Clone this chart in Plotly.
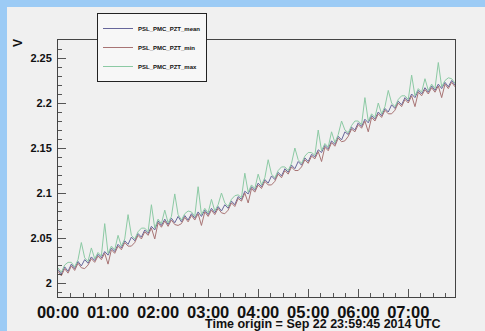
import plotly.graph_objects as go

# sample times in minutes after time origin (4-minute trend samples)
t_min = [4 * k for k in range(120)]

pzt_mean = [
    2.015, 2.010, 2.018, 2.013, 2.021, 2.016, 2.024, 2.019, 2.026, 2.022,
    2.029, 2.025, 2.032, 2.028, 2.035, 2.031, 2.039, 2.035, 2.043, 2.039,
    2.047, 2.043, 2.051, 2.047, 2.055, 2.051, 2.059, 2.055, 2.063, 2.059,
    2.069, 2.064, 2.071, 2.065, 2.072, 2.067, 2.074, 2.068, 2.075, 2.070,
    2.077, 2.072, 2.079, 2.074, 2.081, 2.076, 2.083, 2.078, 2.085, 2.080,
    2.087, 2.083, 2.091, 2.087, 2.096, 2.093, 2.102, 2.099, 2.107, 2.103,
    2.111, 2.107, 2.115, 2.111, 2.119, 2.115, 2.123, 2.119, 2.127, 2.123,
    2.131, 2.127, 2.135, 2.131, 2.139, 2.135, 2.143, 2.140, 2.148, 2.145,
    2.153, 2.149, 2.158, 2.154, 2.163, 2.159, 2.168, 2.165, 2.173, 2.170,
    2.178, 2.174, 2.182, 2.178, 2.186, 2.182, 2.190, 2.186, 2.194, 2.190,
    2.198, 2.194, 2.202, 2.198, 2.206, 2.202, 2.210, 2.206, 2.214, 2.210,
    2.217, 2.212, 2.219, 2.214, 2.221, 2.216, 2.223, 2.218, 2.225, 2.220,
]

pzt_min = [
    2.013, 2.008, 2.016, 2.011, 2.019, 2.014, 2.022, 2.017, 2.016, 2.020,
    2.027, 2.023, 2.030, 2.026, 2.033, 2.021, 2.037, 2.033, 2.041, 2.037,
    2.045, 2.041, 2.041, 2.045, 2.053, 2.049, 2.057, 2.053, 2.061, 2.049,
    2.067, 2.062, 2.069, 2.063, 2.070, 2.065, 2.064, 2.066, 2.073, 2.068,
    2.075, 2.070, 2.077, 2.064, 2.079, 2.074, 2.081, 2.076, 2.083, 2.078,
    2.077, 2.081, 2.089, 2.085, 2.094, 2.091, 2.100, 2.089, 2.105, 2.101,
    2.109, 2.105, 2.113, 2.109, 2.109, 2.113, 2.121, 2.117, 2.125, 2.121,
    2.129, 2.125, 2.125, 2.129, 2.137, 2.133, 2.141, 2.138, 2.146, 2.135,
    2.151, 2.147, 2.156, 2.152, 2.161, 2.157, 2.158, 2.163, 2.171, 2.168,
    2.176, 2.172, 2.180, 2.168, 2.184, 2.180, 2.188, 2.184, 2.192, 2.188,
    2.188, 2.192, 2.200, 2.196, 2.204, 2.200, 2.208, 2.196, 2.212, 2.208,
    2.215, 2.210, 2.217, 2.212, 2.219, 2.206, 2.221, 2.216, 2.223, 2.218,
]

pzt_max = [
    2.017, 2.012, 2.020, 2.023, 2.023, 2.018, 2.026, 2.045, 2.028, 2.024,
    2.039, 2.027, 2.034, 2.030, 2.066, 2.033, 2.041, 2.037, 2.053, 2.041,
    2.049, 2.076, 2.053, 2.049, 2.057, 2.061, 2.061, 2.057, 2.087, 2.061,
    2.071, 2.066, 2.081, 2.067, 2.074, 2.099, 2.076, 2.070, 2.077, 2.080,
    2.079, 2.074, 2.107, 2.076, 2.083, 2.078, 2.093, 2.080, 2.087, 2.100,
    2.089, 2.085, 2.093, 2.097, 2.098, 2.095, 2.122, 2.101, 2.109, 2.105,
    2.121, 2.109, 2.117, 2.137, 2.121, 2.117, 2.125, 2.129, 2.129, 2.125,
    2.133, 2.150, 2.137, 2.133, 2.141, 2.145, 2.145, 2.142, 2.170, 2.147,
    2.155, 2.151, 2.168, 2.156, 2.165, 2.180, 2.170, 2.167, 2.175, 2.180,
    2.180, 2.176, 2.206, 2.180, 2.188, 2.184, 2.200, 2.188, 2.196, 2.214,
    2.200, 2.196, 2.204, 2.208, 2.208, 2.204, 2.231, 2.208, 2.216, 2.212,
    2.227, 2.214, 2.221, 2.216, 2.245, 2.218, 2.225, 2.228, 2.227, 2.222,
]

tick_pos = [0, 60, 120, 180, 240, 300, 360, 420]
tick_labels = ["00:00", "01:00", "02:00", "03:00", "04:00", "05:00", "06:00", "07:00"]
series_names = ["PSL_PMC_PZT_mean", "PSL_PMC_PZT_min", "PSL_PMC_PZT_max"]
series_colors = ["#66669a", "#a87474", "#8ccaa4"]

FONT = "Liberation Sans, Arial, Helvetica, sans-serif"

fig = go.Figure()
for name, vals, col in zip(series_names, [pzt_mean, pzt_min, pzt_max], series_colors):
    fig.add_trace(go.Scatter(x=t_min, y=vals, mode="lines", name=name,
                             line=dict(color=col, width=1)))

W, H = 485, 331
L, R, T, B = 58, 30, 40, 34
pw, ph = W - L - R, H - T - B

def px_x(p):
    return (p - L) / pw

def px_y(p):
    return (H - B - p) / ph

fig.update_layout(
    width=W, height=H,
    margin=dict(l=L, r=R, t=T, b=B, pad=0, autoexpand=False),
    paper_bgcolor="#f0f0f0",
    plot_bgcolor="#f0f0f0",
    font=dict(family=FONT, color="#111"),
    showlegend=True,
    legend=dict(
        x=px_x(97), y=px_y(13), xanchor="left", yanchor="top",
        bgcolor="#f7f7f7", bordercolor="#222", borderwidth=1,
        font=dict(family=FONT, size=6, color="#111", weight="bold"),
        itemwidth=30,
    ),
    xaxis=dict(
        range=[0, 476], showgrid=False, zeroline=False, automargin=False,
        showline=True, linecolor="#444", linewidth=1, mirror=True,
        tickmode="array", tickvals=tick_pos, ticktext=tick_labels,
        ticks="inside", ticklen=8, tickcolor="#555", tickwidth=1,
        ticklabelstandoff=0,
        tickfont=dict(family=FONT, size=16.5, color="#111", weight="bold"),
        minor=dict(tickmode="linear", tick0=0, dtick=15, ticks="inside",
                   ticklen=4, tickcolor="#555", showgrid=False),
    ),
    yaxis=dict(
        range=[1.9845, 2.27], showgrid=False, zeroline=False, automargin=False,
        showline=True, linecolor="#444", linewidth=1, mirror=True,
        tickmode="linear", tick0=2.0, dtick=0.05,
        ticks="inside", ticklen=8, tickcolor="#555", tickwidth=1,
        tickfont=dict(family=FONT, size=11, color="#111", weight="bold"),
        ticklabelstandoff=3,
        minor=dict(tickmode="linear", tick0=2.0, dtick=0.01, ticks="inside",
                   ticklen=4, tickcolor="#555", showgrid=False),
    ),
    shapes=[
        # blue canvas border, left and top
        dict(type="rect", xref="paper", yref="paper", layer="above",
             x0=px_x(-3), x1=px_x(7), y0=px_y(H + 3), y1=px_y(-3),
             fillcolor="#9ccbf5", line=dict(width=0)),
        dict(type="rect", xref="paper", yref="paper", layer="above",
             x0=px_x(-3), x1=px_x(W + 3), y0=px_y(7), y1=px_y(-3),
             fillcolor="#9ccbf5", line=dict(width=0)),
        # legend drop shadow
        dict(type="rect", xref="paper", yref="paper", layer="above",
             x0=px_x(100), x1=px_x(199), y0=px_y(80), y1=px_y(16),
             fillcolor="#222", line=dict(width=0)),
    ],
    annotations=[
        dict(text="V", xref="paper", yref="paper", x=px_x(18), y=px_y(43),
             xanchor="center", yanchor="middle", showarrow=False, textangle=-90,
             font=dict(family=FONT, size=12, color="#111", weight="bold")),
        dict(text="Time origin = Sep 22 23:59:45 2014 UTC", xref="paper", yref="paper",
             x=px_x(443), y=px_y(323.5), xanchor="right", yanchor="middle", showarrow=False,
             font=dict(family=FONT, size=12.5, color="#111", weight="bold")),
    ],
)

fig.write_html("out.html")
